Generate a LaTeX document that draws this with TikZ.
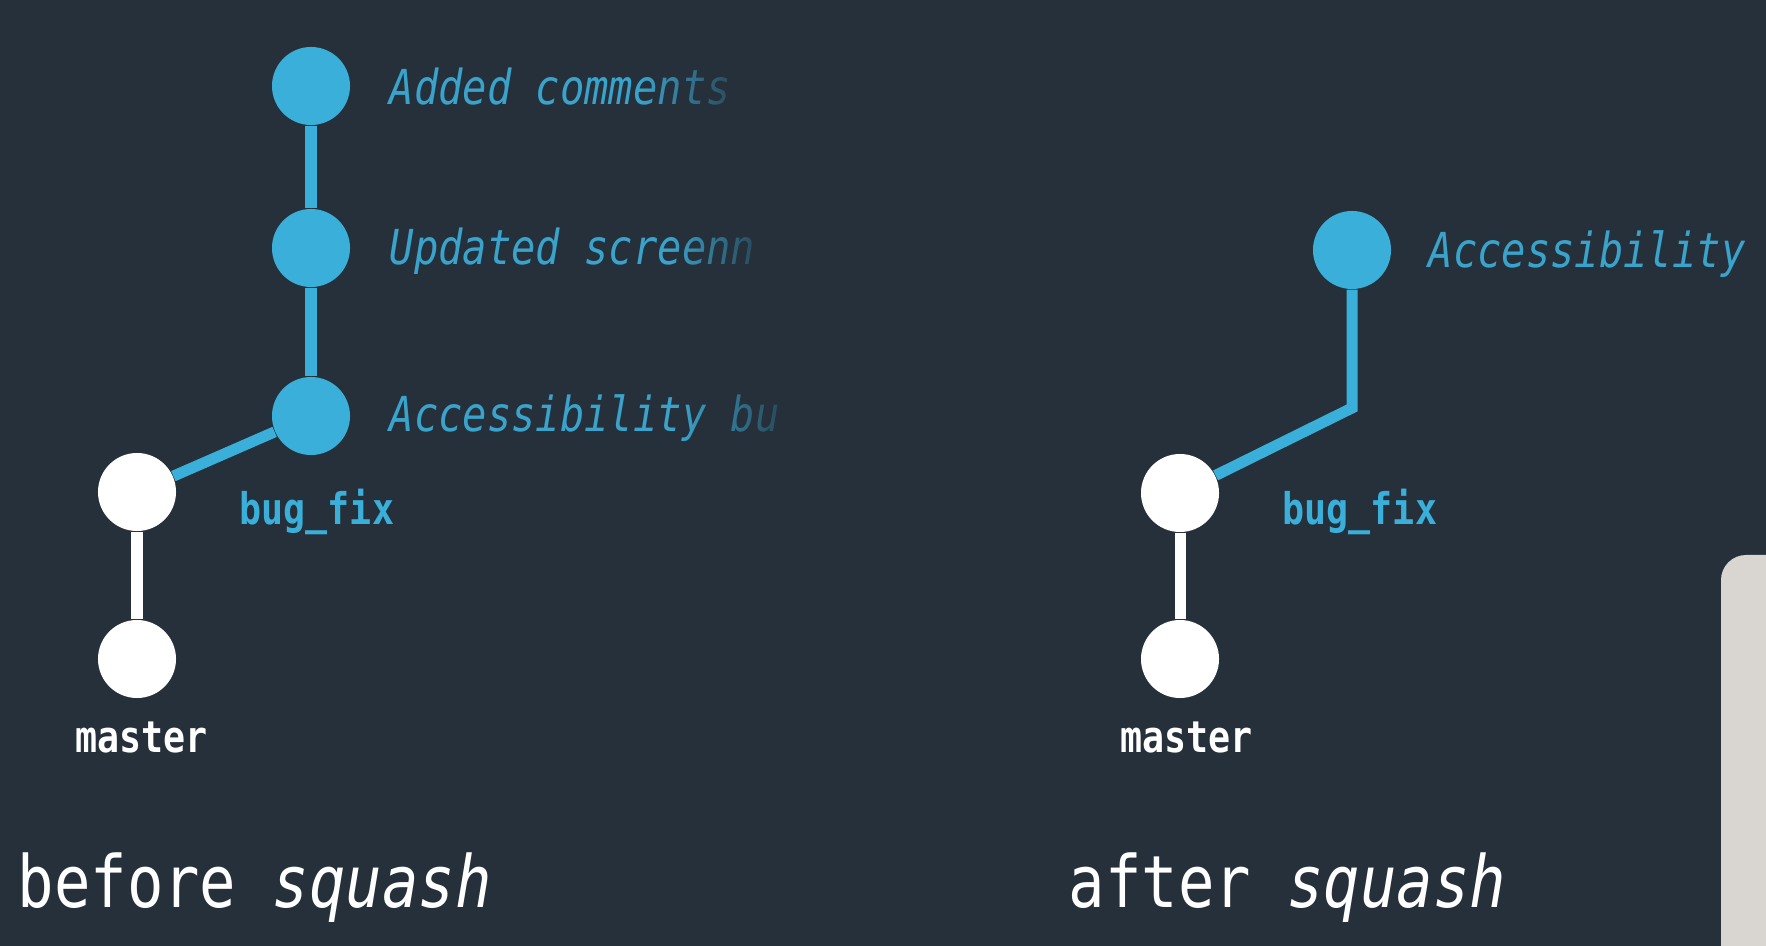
\documentclass[tikz,border=0pt]{standalone}
\usepackage{fontspec}
\usepackage{tikz}
\usetikzlibrary{
  fadings % 提交说明末尾的渐隐
}
\newfontfamily\gitmono[FakeStretch=0.84]{DejaVu Sans Mono}
\definecolor{bgslate}{HTML}{25303A}
\definecolor{commitblue}{HTML}{3AAFD9}
\definecolor{msgblue}{HTML}{3AA3CC}
\definecolor{cupgrey}{HTML}{D9D6D1}
\tikzfading[name=fade in east, left color=transparent!100, right color=transparent!0]
\tikzset{
  commit dot/.style={
    circle,
    fill=commitblue,
    inner sep=0pt,
    minimum size=0.78cm
  },
  base dot/.style={
    circle,
    fill=white,
    inner sep=0pt,
    minimum size=0.78cm
  },
  branch line/.style={
    line width=0.11cm,
    draw=commitblue
  },
  base line/.style={
    line width=0.11cm,
    draw=white
  },
  msg text/.style={
    anchor=base west,
    inner sep=0pt,
    text=msgblue,
    font=\gitmono\itshape\fontsize{13.7pt}{16pt}\selectfont
  },
  ref label/.style={
    anchor=base west,
    inner sep=0pt,
    font=\gitmono\bfseries\fontsize{12.4pt}{15pt}\selectfont
  },
  caption text/.style={
    anchor=base west,
    inner sep=0pt,
    text=white,
    font=\gitmono\fontsize{20.5pt}{24pt}\selectfont
  },
  fade cover/.style={
    fill=bgslate,
    path fading=fade in east
  }
}

\begin{document}
\begin{tikzpicture}[x=0.01cm, y=-0.01cm] % 以像素为单位，y 轴向下
  % 背景
  \useasboundingbox (0,0) rectangle (1766,946);
  \fill[bgslate] (0,0) rectangle (1766,946); % 深色底

  % 左图：squash 之前
  \node[commit dot] (added) at (311,86) {};     % 最新提交
  \node[commit dot] (updated) at (311,248) {};  % 中间提交
  \node[commit dot] (access) at (311,416) {};   % 分支第一个提交
  \node[base dot] (fix) at (137,492) {};        % 分支起点
  \node[base dot] (master) at (137,659) {};     % master
  \draw[branch line] (added) -- (updated) -- (access);
  \draw[branch line] (access) -- (fix);
  \draw[base line] (fix) -- (master);

  \node[msg text] (addedmsg) at (389,105) {Added comments};
  \node[msg text] (updatedmsg) at (389,265) {Updated screenn};
  \node[msg text] (accessmsg) at (389,432) {Accessibility bu};
  \fill[fade cover] (640,55) rectangle (760,125);  % 文字末尾渐隐
  \fill[fade cover] (670,215) rectangle (780,290);
  \fill[fade cover] (680,385) rectangle (810,455);

  \node[ref label, text=commitblue] (fixlbl) at (239,525) {bug\_fix};
  \node[ref label, text=white] (masterlbl) at (75,752) {master};
  \node[caption text] (beforecap) at (17,907) {before \textit{squash}};

  % 右图：squash 之后
  \node[commit dot] (squashed) at (1352,250) {}; % 合并后的单个提交
  \coordinate (bend) at (1352,408);              % 折点
  \node[base dot] (fix2) at (1180,493) {};
  \node[base dot] (master2) at (1180,659) {};
  \draw[branch line] (squashed) -- (bend) -- (fix2);
  \draw[base line] (fix2) -- (master2);

  \node[msg text] (squashedmsg) at (1428,268) {Accessibility};
  \node[ref label, text=commitblue] (fix2lbl) at (1282,525) {bug\_fix};
  \node[ref label, text=white] (master2lbl) at (1120,752) {master};
  \node[caption text] (aftercap) at (1068,907) {after \textit{squash}};

  % 右下角的浅色物体
  \fill[cupgrey, rounded corners=0.25cm] (1721,990) -- (1721,555) -- (1810,555) -- (1810,990) -- cycle;
\end{tikzpicture}
\end{document}
